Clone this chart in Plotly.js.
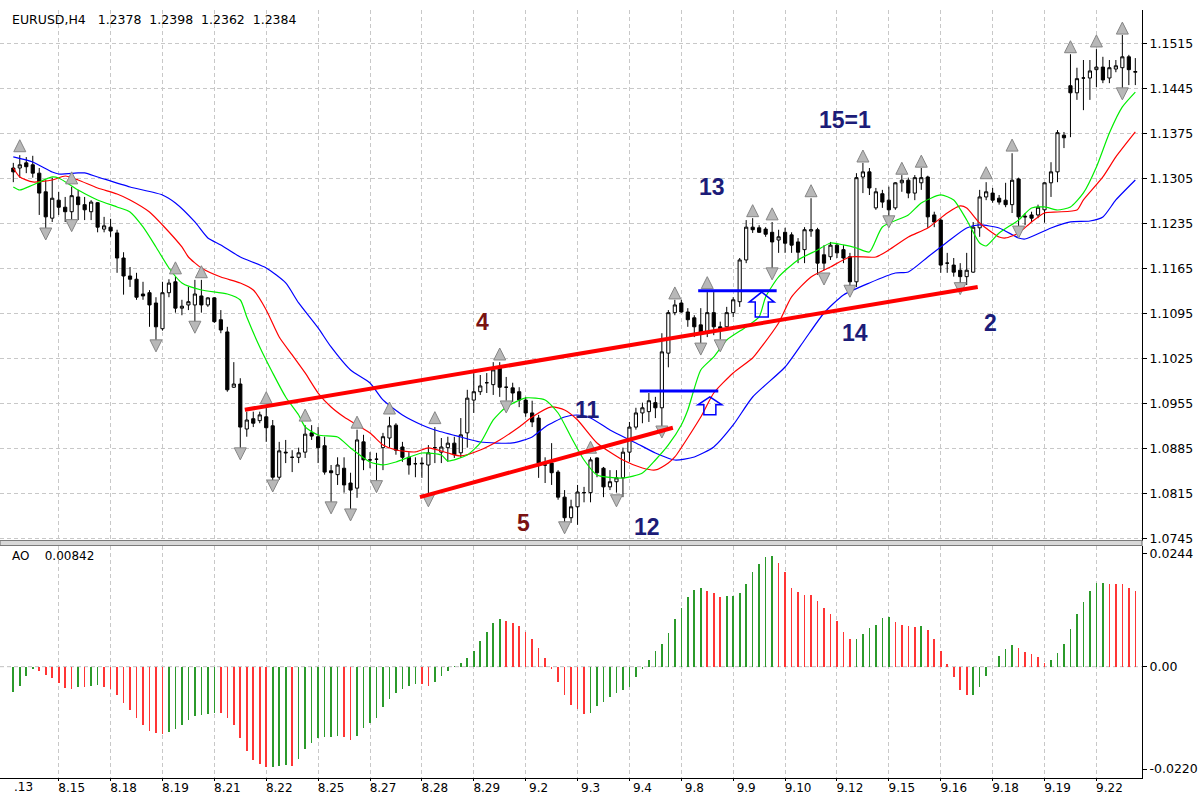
<!DOCTYPE html>
<html><head><meta charset="utf-8">
<script src="https://cdn.plot.ly/plotly-3.0.1.min.js"></script>
<style>html,body{margin:0;padding:0;background:#fff;}#chart{width:1199px;height:796px;}</style>
</head><body><div id="chart"></div>
<script>
// ---------- DATA (EURUSD H4) ----------
const openP = [1.1322,1.1322,1.1330,1.1327,1.1314,1.1285,1.1244,1.1272,1.1261,1.1254,
1.1277,1.1265,1.1254,1.1268,1.1227,1.1230,1.1221,1.1182,1.1154,1.1149,
1.1126,1.1128,1.1112,1.1072,1.1128,1.1145,1.1104,1.1109,1.1109,1.1123,
1.1109,1.1120,1.1086,1.1067,1.0981,1.0986,1.0916,1.0932,1.0929,1.0935,
1.0921,1.0841,1.0880,1.0872,1.0872,1.0880,1.0910,1.0904,1.0890,1.0851,
1.0845,1.0855,1.0832,1.0824,1.0896,1.0868,1.0869,1.0887,1.0902,1.0922,
1.0888,1.0872,1.0862,1.0863,1.0860,1.0887,1.0880,1.0887,1.0894,1.0879,
1.0910,1.0961,1.0974,1.0988,1.0985,1.1012,1.0981,1.0980,1.0974,1.0961,
1.0941,1.0933,1.0860,1.0863,1.0849,1.0810,1.0778,1.0795,1.0817,1.0817,
1.0871,1.0855,1.0826,1.0834,1.0840,1.0880,1.0919,1.0941,1.0943,1.0957,
1.0949,1.1034,1.1097,1.1112,1.1098,1.1089,1.1078,1.1065,1.1097,1.1075,
1.1075,1.1097,1.1114,1.1179,1.1230,1.1229,1.1227,1.1222,1.1210,1.1222,
1.1218,1.1207,1.1195,1.1224,1.1226,1.1187,1.1184,1.1202,1.1195,1.1184,
1.1145,1.1308,1.1316,1.1260,1.1282,1.1272,1.1260,1.1299,1.1303,1.1283,
1.1299,1.1308,1.1249,1.1241,1.1174,1.1171,1.1163,1.1153,1.1160,1.1229,
1.1277,1.1283,1.1275,1.1272,1.1265,1.1305,1.1247,1.1249,1.1249,1.1257,
1.1299,1.1316,1.1373,1.1450,1.1439,1.1462,1.1462,1.1475,1.1479,1.1462,
1.1476,1.1478,1.1495,1.1471];
const highP = [1.1330,1.1342,1.1339,1.1341,1.1322,1.1303,1.1307,1.1285,1.1277,1.1293,
1.1288,1.1277,1.1272,1.1269,1.1246,1.1243,1.1226,1.1191,1.1168,1.1159,
1.1145,1.1132,1.1121,1.1145,1.1149,1.1153,1.1117,1.1137,1.1148,1.1148,
1.1121,1.1121,1.1101,1.1075,1.1020,1.0995,1.0943,1.0943,1.0943,1.0950,
1.0930,1.0896,1.0899,1.0883,1.0887,1.0922,1.0922,1.0919,1.0904,1.0860,
1.0872,1.0872,1.0848,1.0915,1.0907,1.0880,1.0879,1.0910,1.0935,1.0925,
1.0896,1.0880,1.0872,1.0872,1.0891,1.0919,1.0902,1.0904,1.0904,1.0933,
1.0977,1.1003,1.1000,1.1003,1.1020,1.1020,1.0997,1.0988,1.0981,1.0966,
1.0960,1.0938,1.0872,1.0894,1.0852,1.0821,1.0806,1.0829,1.0826,1.0872,
1.0872,1.0857,1.0852,1.0852,1.0887,1.0927,1.0949,1.0957,1.0972,1.0966,
1.1065,1.1101,1.1117,1.1117,1.1104,1.1093,1.1104,1.1129,1.1129,1.1083,
1.1106,1.1121,1.1182,1.1241,1.1244,1.1233,1.1230,1.1238,1.1226,1.1229,
1.1222,1.1213,1.1230,1.1275,1.1229,1.1202,1.1207,1.1205,1.1202,1.1190,
1.1314,1.1330,1.1322,1.1291,1.1288,1.1293,1.1300,1.1311,1.1307,1.1311,
1.1322,1.1310,1.1254,1.1244,1.1190,1.1182,1.1174,1.1190,1.1238,1.1288,
1.1300,1.1291,1.1280,1.1299,1.1345,1.1307,1.1252,1.1254,1.1265,1.1300,
1.1331,1.1381,1.1378,1.1499,1.1478,1.1490,1.1490,1.1507,1.1495,1.1490,
1.1490,1.1529,1.1498,1.1493];
const lowP = [1.1300,1.1307,1.1314,1.1307,1.1249,1.1226,1.1238,1.1249,1.1238,1.1238,
1.1241,1.1241,1.1241,1.1222,1.1222,1.1215,1.1159,1.1125,1.1137,1.1117,
1.1117,1.1075,1.1051,1.1069,1.1121,1.1097,1.1093,1.1101,1.1081,1.1097,
1.1106,1.1081,1.1065,1.0974,1.0980,1.0883,1.0904,1.0919,1.0925,1.0896,
1.0834,1.0837,1.0863,1.0849,1.0863,1.0871,1.0899,1.0863,1.0845,1.0798,
1.0829,1.0817,1.0787,1.0809,1.0852,1.0855,1.0832,1.0852,1.0887,1.0876,
1.0865,1.0845,1.0841,1.0840,1.0813,1.0863,1.0863,1.0865,1.0871,1.0871,
1.0887,1.0941,1.0969,1.0972,1.0969,1.0966,1.0960,1.0958,1.0950,1.0935,
1.0919,1.0840,1.0832,1.0829,1.0806,1.0764,1.0770,1.0767,1.0802,1.0802,
1.0841,1.0810,1.0821,1.0817,1.0810,1.0865,1.0915,1.0925,1.0927,1.0933,
1.0919,1.1012,1.1093,1.1097,1.1075,1.1059,1.1047,1.1059,1.1062,1.1055,
1.1070,1.1090,1.1106,1.1174,1.1221,1.1221,1.1215,1.1163,1.1190,1.1190,
1.1190,1.1174,1.1174,1.1215,1.1156,1.1163,1.1179,1.1182,1.1174,1.1137,
1.1137,1.1283,1.1280,1.1257,1.1260,1.1244,1.1257,1.1285,1.1275,1.1272,
1.1288,1.1229,1.1230,1.1159,1.1159,1.1153,1.1140,1.1140,1.1159,1.1215,
1.1272,1.1268,1.1265,1.1261,1.1252,1.1229,1.1233,1.1238,1.1244,1.1237,
1.1277,1.1300,1.1353,1.1370,1.1428,1.1412,1.1428,1.1448,1.1454,1.1454,
1.1471,1.1440,1.1451,1.1451];
const closeP = [1.1316,1.1327,1.1324,1.1314,1.1283,1.1246,1.1275,1.1261,1.1254,1.1279,
1.1265,1.1257,1.1269,1.1230,1.1232,1.1224,1.1182,1.1154,1.1149,1.1121,
1.1123,1.1109,1.1075,1.1128,1.1143,1.1104,1.1107,1.1114,1.1126,1.1109,
1.1120,1.1083,1.1070,1.0977,1.0986,1.0919,1.0930,1.0925,1.0938,1.0918,
1.0841,1.0882,1.0879,1.0872,1.0879,1.0908,1.0905,1.0887,1.0849,1.0848,
1.0860,1.0829,1.0821,1.0899,1.0868,1.0868,1.0869,1.0904,1.0921,1.0883,
1.0872,1.0860,1.0862,1.0862,1.0879,1.0887,1.0888,1.0894,1.0876,1.0907,
1.0964,1.0974,1.0983,1.0988,1.1008,1.0981,1.0981,1.0972,1.0961,1.0941,
1.0927,1.0863,1.0860,1.0848,1.0810,1.0778,1.0795,1.0818,1.0817,1.0868,
1.0848,1.0826,1.0834,1.0840,1.0880,1.0919,1.0941,1.0949,1.0960,1.0949,
1.1036,1.1097,1.1109,1.1098,1.1086,1.1075,1.1065,1.1097,1.1075,1.1072,
1.1097,1.1117,1.1179,1.1230,1.1226,1.1222,1.1219,1.1207,1.1215,1.1205,
1.1202,1.1191,1.1226,1.1226,1.1174,1.1174,1.1202,1.1190,1.1182,1.1145,
1.1307,1.1316,1.1291,1.1285,1.1269,1.1257,1.1299,1.1303,1.1283,1.1307,
1.1307,1.1246,1.1238,1.1171,1.1174,1.1160,1.1153,1.1163,1.1230,1.1277,
1.1285,1.1272,1.1269,1.1265,1.1303,1.1246,1.1246,1.1244,1.1261,1.1299,
1.1316,1.1377,1.1369,1.1439,1.1461,1.1462,1.1473,1.1479,1.1459,1.1478,
1.1481,1.1495,1.1475,1.1472];

// Awesome Oscillator values
const aoValues = [-0.00552,-0.00409,-0.00201,-0.00057,-0.00086,-0.00179,-0.00251,-0.00344,-0.00466,-0.00473,
-0.00437,-0.00445,-0.00409,-0.00402,-0.00430,-0.00488,-0.00610,-0.00789,-0.00932,-0.01111,
-0.01255,-0.01377,-0.01420,-0.01456,-0.01398,-0.01341,-0.01255,-0.01147,-0.01054,-0.01047,
-0.01018,-0.00989,-0.01004,-0.01111,-0.01255,-0.01542,-0.01807,-0.02008,-0.02094,-0.02158,
-0.02151,-0.02129,-0.02122,-0.02125,-0.01986,-0.01778,-0.01649,-0.01527,-0.01513,-0.01506,
-0.01500,-0.01520,-0.01570,-0.01484,-0.01312,-0.01205,-0.01111,-0.00860,-0.00703,-0.00574,
-0.00488,-0.00409,-0.00373,-0.00380,-0.00409,-0.00323,-0.00201,-0.00086,0.00005,0.00072,
0.00179,0.00344,0.00552,0.00753,0.00932,0.01018,0.00989,0.00932,0.00875,0.00753,
0.00602,0.00394,0.00179,-0.00057,-0.00323,-0.00610,-0.00825,-0.00911,-0.01018,-0.00989,
-0.00839,-0.00767,-0.00645,-0.00559,-0.00502,-0.00430,-0.00229,-0.00057,0.00143,0.00344,
0.00488,0.00717,0.01018,0.01255,0.01506,0.01649,0.01685,0.01628,0.01577,0.01506,
0.01520,0.01527,0.01577,0.01778,0.02029,0.02208,0.02352,0.02388,0.02237,0.02029,
0.01685,0.01613,0.01542,0.01535,0.01420,0.01255,0.01133,0.00989,0.00753,0.00588,
0.00595,0.00695,0.00839,0.00896,0.01040,0.01076,0.00968,0.00896,0.00875,0.00846,
0.00875,0.00789,0.00588,0.00344,0.00057,-0.00229,-0.00502,-0.00610,-0.00602,-0.00430,
-0.00201,-0.00014,0.00229,0.00380,0.00466,0.00409,0.00308,0.00272,0.00201,0.00086,
0.00143,0.00287,0.00488,0.00810,0.01133,0.01398,0.01628,0.01793,0.01807,0.01778,
0.01771,0.01767,0.01685,0.01628];

// Alligator lines (bar index, value) read at sample bars
const jawBars = [0,3,6,7,10,11,13,18,23,25,28,30,32,35,39,42,44,47,49,52,55,57,60,63,65,69,72,77,80,82,85,87,89,92,96,99,102,105,108,111,114,119,122,125,128,132,136,138,141,144,147,149,152,155,156,160,163,166,168,170,173];
const jawValues = [1.13392,1.13314,1.13158,1.13127,1.13143,1.13143,1.13081,1.12925,1.12801,1.12676,1.12381,1.12132,1.12023,1.11836,1.11665,1.11432,1.11121,1.10732,1.10436,1.10078,1.09876,1.09612,1.09378,1.09223,1.09145,1.09036,1.08958,1.08943,1.09036,1.09192,1.09347,1.09378,1.09332,1.09145,1.08943,1.08787,1.08678,1.08725,1.08881,1.09223,1.09658,1.10125,1.10545,1.10965,1.11245,1.11432,1.11587,1.11603,1.11836,1.12070,1.12287,1.12334,1.12287,1.12132,1.12116,1.12287,1.12381,1.12396,1.12458,1.12723,1.13034];
const teethBars = [0,1,3,6,8,10,13,16,18,21,23,26,27,29,32,35,37,39,41,43,45,47,49,51,55,57,59,62,64,67,69,72,75,78,80,83,85,87,90,94,97,99,101,102,106,108,111,114,115,118,120,123,126,129,133,135,138,141,144,146,147,149,152,153,155,157,159,161,164,165,168,170,173];
const teethValues = [1.13221,1.13081,1.13003,1.13034,1.13096,1.13034,1.12909,1.12816,1.12723,1.12536,1.12334,1.11992,1.11836,1.11665,1.11525,1.11432,1.11323,1.11012,1.10592,1.10312,1.10032,1.09720,1.09503,1.09347,1.09098,1.08912,1.08834,1.08803,1.08865,1.08787,1.08741,1.08834,1.08990,1.09192,1.09347,1.09503,1.09456,1.09301,1.08943,1.08678,1.08554,1.08523,1.08632,1.08725,1.09347,1.09720,1.10032,1.10265,1.10390,1.10810,1.11214,1.11525,1.11681,1.11836,1.11836,1.11945,1.12147,1.12287,1.12521,1.12630,1.12598,1.12365,1.12147,1.12132,1.12209,1.12381,1.12521,1.12536,1.12567,1.12723,1.13081,1.13392,1.13781];
const lipsBars = [0,1,3,6,7,10,13,16,18,20,22,24,26,29,33,35,36,38,40,42,44,45,47,50,52,55,57,59,63,66,67,70,72,74,76,79,82,84,86,88,90,94,97,99,101,103,104,106,108,110,113,115,116,118,121,124,126,128,130,132,134,138,140,143,145,147,149,150,152,155,157,159,161,163,165,167,169,171,173];
const lipsValues = [1.12925,1.12878,1.12956,1.13081,1.13065,1.12878,1.12723,1.12614,1.12536,1.12303,1.11992,1.11665,1.11432,1.11323,1.11260,1.11167,1.10903,1.10436,1.10032,1.09658,1.09378,1.09192,1.09067,1.09036,1.08865,1.08647,1.08601,1.08647,1.08787,1.08756,1.08663,1.08756,1.08943,1.09301,1.09503,1.09643,1.09612,1.09409,1.09036,1.08678,1.08445,1.08398,1.08476,1.08678,1.08912,1.09223,1.09456,1.10078,1.10281,1.10545,1.10748,1.10903,1.11214,1.11525,1.11790,1.11945,1.12054,1.12023,1.11976,1.11914,1.12303,1.12490,1.12676,1.12801,1.12723,1.12412,1.12054,1.12007,1.12209,1.12412,1.12598,1.12614,1.12567,1.12614,1.12832,1.13236,1.13765,1.14170,1.14401];

// Fractals
const fractalUpBars = [1,9,25,29,39,45,53,58,65,75,89,102,107,114,117,123,131,137,140,150,154,163,167,171];
const fractalUpPrices = [1.1366,1.1316,1.1176,1.1170,1.0974,1.0947,1.0936,1.0958,1.0943,1.1042,1.0897,1.1137,1.1153,1.1265,1.1260,1.1296,1.1350,1.1331,1.1342,1.1324,1.1367,1.1520,1.1529,1.1549];
const fractalDownBars = [5,9,22,28,35,40,49,52,56,64,76,85,93,100,106,109,117,125,129,135,146,155,171];
const fractalDownPrices = [1.1210,1.1223,1.1036,1.1065,1.0868,1.0818,1.0784,1.0773,1.0817,1.0795,1.0941,1.0753,1.0795,1.0902,1.1031,1.1036,1.1148,1.1140,1.1121,1.1229,1.1125,1.1213,1.1428];

// Hand-drawn objects: trendlines, levels, arrows, wave labels
const trendLines = [[35.7,1.0946,148.7,1.1137],[62.7,1.0810,101.7,1.0918]];
const levelLines = [[96.6,108.7,1.0975],[105.6,117.7,1.1131]];
const arrowTips = [[107.4,1.0966],[115.4,1.1129]];
const waveLabels = ['4','5','11','12','13','14','15=1','2'];
const waveBars = [72.4,78.6,88.6,97.7,107.7,129.8,128.2,150.6];
const wavePrices = [1.10825,1.07698,1.09456,1.07636,1.12925,1.10654,1.13967,1.10810];
const waveColors = ['#7a1212','#7a1212','#1c1c78','#1c1c78','#1c1c78','#1c1c78','#1c1c78','#1c1c78'];

// Axis labels
const dateLabels = ['8.15','8.18','8.19','8.21','8.22','8.25','8.27','8.28','8.29','9.2','9.3','9.4','9.8','9.9','9.10','9.12','9.15','9.16','9.18','9.19','9.22'];
const priceTicks = [1.1515,1.1445,1.1375,1.1305,1.1235,1.1165,1.1095,1.1025,1.0955,1.0885,1.0815,1.0745];
const aoTicks = [0.0244,0,-0.0220];
const aoTickText = ['0.0244','0.00','-0.0220'];

// ---------- LAYOUT GEOMETRY ----------
const W=1199,H=796,M={l:0,r:57,t:10,b:18};
const plotW=W-M.l-M.r, plotH=H-M.t-M.b;
const xRange=[-2.05,174.03];
const priceRange=[1.07418,1.15678];
const aoRange=[-0.02393,0.02595];
const mainDomain=[0.3086,1], aoDomain=[0,0.3021];
const pxPerBar=plotW/(xRange[1]-xRange[0]);
const pricePerPx=(priceRange[1]-priceRange[0])/((mainDomain[1]-mainDomain[0])*plotH);

const bars=openP.map((_,i)=>i);
const aoColors=aoValues.map((v,i)=> (i===0 || v>aoValues[i-1]) ? '#2b9a2b' : '#ff3535');

const tickFont={family:'DejaVu Sans, Verdana, sans-serif',size:12,color:'#000'};
const gridDash='4px,3px', gridColor='#c8c8c8';

const traces=[
 {type:'candlestick',x:bars,open:openP,high:highP,low:lowP,close:closeP,xaxis:'x',yaxis:'y',
  increasing:{line:{color:'#000',width:1},fillcolor:'#ffffff'},
  decreasing:{line:{color:'#000',width:1},fillcolor:'#000000'},
  whiskerwidth:0,hoverinfo:'skip',showlegend:false},
 {type:'scatter',mode:'lines',x:jawBars,y:jawValues,line:{color:'#0000ff',width:1.2,shape:'spline',smoothing:0.6},hoverinfo:'skip',showlegend:false},
 {type:'scatter',mode:'lines',x:teethBars,y:teethValues,line:{color:'#ff0000',width:1.2,shape:'spline',smoothing:0.6},hoverinfo:'skip',showlegend:false},
 {type:'scatter',mode:'lines',x:lipsBars,y:lipsValues,line:{color:'#00ee00',width:1.2,shape:'spline',smoothing:0.6},hoverinfo:'skip',showlegend:false},
 {type:'scatter',mode:'markers',x:fractalUpBars,y:fractalUpPrices,marker:{symbol:'arrow-up',size:12,color:'#b8b8b8',line:{color:'#858585',width:1}},hoverinfo:'skip',showlegend:false},
 {type:'scatter',mode:'markers',x:fractalDownBars,y:fractalDownPrices,marker:{symbol:'arrow-down',size:12,color:'#b8b8b8',line:{color:'#858585',width:1}},hoverinfo:'skip',showlegend:false},
 {type:'bar',x:bars,y:aoValues,xaxis:'x',yaxis:'y2',marker:{color:aoColors,line:{width:0}},width:0.25,hoverinfo:'skip',showlegend:false}
];

function arrowPath(tx,ty,w,headH,stemW,totalH){
  const pts=[[0,0],[w/2,headH],[stemW/2,headH],[stemW/2,totalH],[-stemW/2,totalH],[-stemW/2,headH],[-w/2,headH]];
  return 'M'+pts.map(p=>(tx+p[0]/pxPerBar).toFixed(4)+','+(ty-p[1]*pricePerPx).toFixed(6)).join(' L')+' Z';
}
const arrowSizes=[[24,8,12,18],[25,10,13,25]];

const shapes=[];
// AO zero line
shapes.push({type:'line',xref:'paper',yref:'y2',x0:0,x1:1,y0:0,y1:0,line:{color:'#c0c0c0',width:1,dash:'4px,3px'},layer:'below'});
// separator between panels
shapes.push({type:'rect',xref:'paper',yref:'paper',x0:0,x1:1,y0:(H-M.b-545.5)/plotH,y1:(H-M.b-540.5)/plotH,fillcolor:'#d8d8d8',line:{color:'#7a7a7a',width:1.2},layer:'above'});
trendLines.forEach(t=>shapes.push({type:'line',xref:'x',yref:'y',x0:t[0],y0:t[1],x1:t[2],y1:t[3],line:{color:'#ff0000',width:4}}));
levelLines.forEach(l=>shapes.push({type:'line',xref:'x',yref:'y',x0:l[0],x1:l[1],y0:l[2],y1:l[2],line:{color:'#0000ff',width:3}}));
arrowTips.forEach((a,k)=>{const s=arrowSizes[k];shapes.push({type:'path',xref:'x',yref:'y',path:arrowPath(a[0],a[1],s[0],s[1],s[2],s[3]),line:{color:'#0000ff',width:1.5},fillcolor:'rgba(0,0,0,0)'});});

const annotations=[];
waveLabels.forEach((t,k)=>annotations.push({text:t,x:waveBars[k],y:wavePrices[k],xref:'x',yref:'y',showarrow:false,
  font:{family:'Liberation Sans, Arial, sans-serif',size:23,color:waveColors[k],weight:'bold'}}));
annotations.push({text:'EURUSD,H4\u00a0\u00a0 1.2378\u00a0 1.2398\u00a0 1.2362\u00a0 1.2384',xref:'paper',yref:'paper',x:10/plotW,y:(H-M.b-19)/plotH,xanchor:'left',yanchor:'middle',showarrow:false,font:{family:'DejaVu Sans, Verdana, sans-serif',size:12.5,color:'#000'}});
annotations.push({text:'AO\u00a0\u00a0\u00a0 0.00842',xref:'paper',yref:'paper',x:10/plotW,y:(H-M.b-556)/plotH,xanchor:'left',yanchor:'middle',showarrow:false,font:tickFont});
annotations.push({text:'.13',xref:'x',yref:'paper',x:-0.15,y:-9/plotH,xanchor:'left',yanchor:'middle',showarrow:false,font:tickFont});

const layout={
  width:W,height:H,margin:M,paper_bgcolor:'#fff',plot_bgcolor:'#fff',showlegend:false,hovermode:false,
  bargap:0,
  xaxis:{domain:[0,1],anchor:'y2',range:xRange,type:'linear',rangeslider:{visible:false},
    tickmode:'array',tickvals:dateLabels.map((_,k)=>7+8*k),ticktext:dateLabels,ticklabelshift:13,ticklabelstandoff:-3,
    showgrid:true,gridcolor:gridColor,griddash:gridDash,gridwidth:1,zeroline:false,
    showline:true,linecolor:'#000',linewidth:1,ticks:'outside',ticklen:2,tickcolor:'#000',tickfont:tickFont},
  yaxis:{domain:mainDomain,anchor:'x',side:'right',range:priceRange,tickmode:'array',tickvals:priceTicks,
    ticktext:priceTicks.map(v=>v.toFixed(4)),showgrid:true,gridcolor:gridColor,griddash:gridDash,zeroline:false,
    showline:true,linecolor:'#000',linewidth:1,ticks:'outside',ticklen:4,tickcolor:'#000',
    tickfont:{family:'DejaVu Sans, Verdana, sans-serif',size:12.5,color:'#000'}},
  yaxis2:{domain:aoDomain,anchor:'x',side:'right',range:aoRange,tickmode:'array',tickvals:aoTicks,ticktext:aoTickText,
    showgrid:false,zeroline:false,showline:true,linecolor:'#000',linewidth:1,ticks:'outside',ticklen:4,tickcolor:'#000',
    tickfont:{family:'DejaVu Sans, Verdana, sans-serif',size:12.5,color:'#000'}},
  shapes:shapes,annotations:annotations
};
Plotly.newPlot('chart',traces,layout,{staticPlot:true,displayModeBar:false});
</script>
</body></html>
